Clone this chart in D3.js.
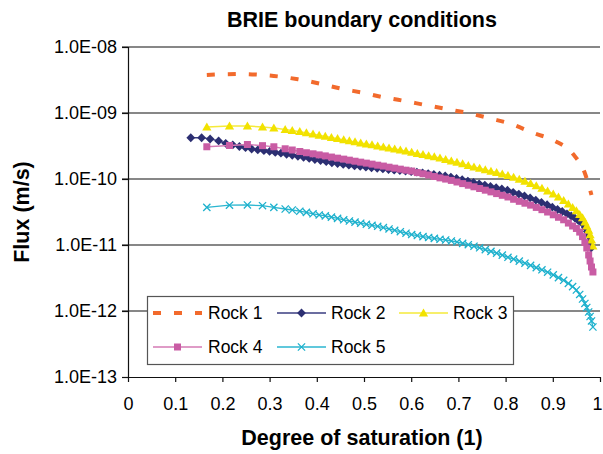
<!DOCTYPE html>
<html><head><meta charset="utf-8">
<script src="https://cdn.jsdelivr.net/npm/d3@7"></script>
<style>
body{margin:0;background:#fff}
svg{display:block}
text{font-family:"Liberation Sans",Arial,Helvetica,sans-serif;fill:#000}
</style>
</head><body>
<svg id="chart" width="603" height="454"></svg>
<script>
// ---------------- data ----------------
const seriesNames = ["Rock 1", "Rock 2", "Rock 3", "Rock 4", "Rock 5"];
const xTickValues = [0, 0.1, 0.2, 0.3, 0.4, 0.5, 0.6, 0.7, 0.8, 0.9, 1];
const yTickValues = [1e-8, 1e-9, 1e-10, 1e-11, 1e-12, 1e-13];

const satRock1 = [0.167, 0.2, 0.24, 0.28, 0.32, 0.36, 0.40, 0.45, 0.50, 0.54, 0.58, 0.63, 0.68, 0.72, 0.77, 0.81, 0.86, 0.905, 0.943, 0.968, 0.982];
const fluxRock1 = [3.77e-9, 3.86e-9, 3.90e-9, 3.79e-9, 3.57e-9, 3.24e-9, 2.85e-9, 2.35e-9, 2.01e-9, 1.74e-9, 1.55e-9, 1.32e-9, 1.13e-9, 1.00e-9, 8.17e-10, 6.88e-10, 4.93e-10, 3.77e-10, 2.39e-10, 1.22e-10, 5.72e-11];

const satRock2 = [0.133, 0.156, 0.174, 0.192, 0.207, 0.222, 0.236, 0.249, 0.262, 0.275, 0.288, 0.300, 0.312, 0.324, 0.336, 0.348, 0.360, 0.372, 0.384, 0.396, 0.408, 0.420, 0.432, 0.444, 0.456, 0.468, 0.480, 0.492, 0.504, 0.516, 0.528, 0.540, 0.552, 0.564, 0.576, 0.588, 0.600, 0.612, 0.624, 0.636, 0.648, 0.660, 0.672, 0.684, 0.696, 0.708, 0.720, 0.732, 0.744, 0.756, 0.768, 0.780, 0.792, 0.804, 0.816, 0.828, 0.840, 0.852, 0.864, 0.876, 0.888, 0.899, 0.910, 0.920, 0.930, 0.939, 0.947, 0.954, 0.960, 0.965, 0.969, 0.973, 0.976, 0.979, 0.981];
const fluxRock2 = [4.22e-10, 4.22e-10, 4.04e-10, 3.77e-10, 3.47e-10, 3.28e-10, 3.11e-10, 2.98e-10, 2.85e-10, 2.77e-10, 2.69e-10, 2.62e-10, 2.53e-10, 2.46e-10, 2.37e-10, 2.29e-10, 2.21e-10, 2.13e-10, 2.05e-10, 1.97e-10, 1.90e-10, 1.83e-10, 1.76e-10, 1.71e-10, 1.66e-10, 1.62e-10, 1.58e-10, 1.55e-10, 1.51e-10, 1.48e-10, 1.45e-10, 1.42e-10, 1.39e-10, 1.36e-10, 1.34e-10, 1.32e-10, 1.29e-10, 1.27e-10, 1.24e-10, 1.21e-10, 1.17e-10, 1.14e-10, 1.11e-10, 1.07e-10, 1.02e-10, 9.76e-11, 9.30e-11, 8.85e-11, 8.46e-11, 8.08e-11, 7.72e-11, 7.38e-11, 7.06e-11, 6.75e-11, 6.29e-11, 5.90e-11, 5.53e-11, 5.17e-11, 4.77e-11, 4.41e-11, 4.07e-11, 3.74e-11, 3.45e-11, 3.22e-11, 2.97e-11, 2.75e-11, 2.55e-11, 2.35e-11, 2.23e-11, 2.05e-11, 1.84e-11, 1.60e-11, 1.37e-11, 1.11e-11, 9.01e-12];

// Rock 3, Rock 4 and Rock 5 share these saturation values
const satCommon = [0.167, 0.215, 0.253, 0.285, 0.309, 0.333, 0.348, 0.364, 0.378, 0.392, 0.405, 0.418, 0.431, 0.444, 0.457, 0.469, 0.481, 0.493, 0.505, 0.517, 0.529, 0.541, 0.553, 0.565, 0.577, 0.589, 0.601, 0.613, 0.625, 0.637, 0.649, 0.661, 0.673, 0.685, 0.697, 0.709, 0.721, 0.733, 0.745, 0.757, 0.769, 0.781, 0.793, 0.805, 0.817, 0.829, 0.841, 0.853, 0.865, 0.877, 0.889, 0.901, 0.912, 0.923, 0.933, 0.942, 0.950, 0.957, 0.963, 0.968, 0.972, 0.976, 0.979, 0.982, 0.985];
const fluxRock3 = [6.14e-10, 6.35e-10, 6.35e-10, 6.14e-10, 5.93e-10, 5.62e-10, 5.43e-10, 5.21e-10, 4.99e-10, 4.77e-10, 4.59e-10, 4.42e-10, 4.24e-10, 4.08e-10, 3.91e-10, 3.78e-10, 3.64e-10, 3.51e-10, 3.39e-10, 3.28e-10, 3.16e-10, 3.05e-10, 2.95e-10, 2.84e-10, 2.74e-10, 2.64e-10, 2.54e-10, 2.43e-10, 2.34e-10, 2.25e-10, 2.16e-10, 2.08e-10, 1.97e-10, 1.87e-10, 1.78e-10, 1.69e-10, 1.60e-10, 1.52e-10, 1.45e-10, 1.38e-10, 1.31e-10, 1.25e-10, 1.19e-10, 1.13e-10, 1.06e-10, 9.89e-11, 9.20e-11, 8.52e-11, 7.86e-11, 7.23e-11, 6.58e-11, 5.93e-11, 5.30e-11, 4.71e-11, 4.18e-11, 3.70e-11, 3.28e-11, 2.90e-11, 2.57e-11, 2.23e-11, 1.94e-11, 1.66e-11, 1.42e-11, 1.19e-11, 9.66e-12];
const fluxRock4 = [3.08e-10, 3.22e-10, 3.33e-10, 3.20e-10, 3.08e-10, 2.87e-10, 2.75e-10, 2.61e-10, 2.50e-10, 2.41e-10, 2.32e-10, 2.24e-10, 2.15e-10, 2.07e-10, 2.00e-10, 1.93e-10, 1.86e-10, 1.80e-10, 1.74e-10, 1.68e-10, 1.62e-10, 1.57e-10, 1.51e-10, 1.46e-10, 1.41e-10, 1.36e-10, 1.32e-10, 1.25e-10, 1.20e-10, 1.15e-10, 1.09e-10, 1.04e-10, 9.97e-11, 9.52e-11, 9.01e-11, 8.52e-11, 8.05e-11, 7.62e-11, 7.18e-11, 6.77e-11, 6.38e-11, 6.01e-11, 5.66e-11, 5.34e-11, 4.93e-11, 4.59e-11, 4.30e-11, 4.02e-11, 3.71e-11, 3.43e-11, 3.16e-11, 2.87e-11, 2.63e-11, 2.41e-11, 2.15e-11, 1.94e-11, 1.78e-11, 1.57e-11, 1.34e-11, 1.09e-11, 9.01e-12, 7.06e-12, 5.72e-12, 4.64e-12, 3.90e-12];
const fluxRock5 = [3.72e-11, 4.01e-11, 4.04e-11, 3.94e-11, 3.72e-11, 3.51e-11, 3.39e-11, 3.25e-11, 3.12e-11, 2.97e-11, 2.85e-11, 2.76e-11, 2.65e-11, 2.53e-11, 2.41e-11, 2.31e-11, 2.22e-11, 2.14e-11, 2.06e-11, 1.99e-11, 1.92e-11, 1.84e-11, 1.75e-11, 1.67e-11, 1.59e-11, 1.51e-11, 1.44e-11, 1.39e-11, 1.34e-11, 1.30e-11, 1.26e-11, 1.22e-11, 1.19e-11, 1.15e-11, 1.11e-11, 1.06e-11, 1.01e-11, 9.59e-12, 9.07e-12, 8.52e-12, 8.00e-12, 7.52e-12, 7.01e-12, 6.51e-12, 6.10e-12, 5.70e-12, 5.30e-12, 4.91e-12, 4.55e-12, 4.21e-12, 3.87e-12, 3.52e-12, 3.21e-12, 2.92e-12, 2.62e-12, 2.34e-12, 2.08e-12, 1.78e-12, 1.52e-12, 1.30e-12, 1.13e-12, 9.66e-13, 8.25e-13, 7.06e-13, 5.72e-13];

// ---------------- layout / style ----------------
const W = 603, H = 454;
const M = {left: 128, right: 600, top: 47, bottom: 377};
const svg = d3.select("#chart");

const x = d3.scaleLinear().domain([0, 1]).range([M.left, M.right]);
const y = d3.scaleLog().domain([1e-13, 1e-8]).range([M.bottom, M.top]);

const styles = [
  {color: "#f26a2c", width: 4, dash: "8,13", marker: null},
  {color: "#2c2f72", lineColor: "#3a3d80", width: 1.3, marker: "diamond"},
  {color: "#f2e200", lineColor: "#f5ea3a", width: 1.5, marker: "triangle"},
  {color: "#c95ca4", lineColor: "#d47ab5", width: 1.3, marker: "square"},
  {color: "#1db1cd", lineColor: "#2bb6d0", width: 1.3, marker: "cross"}
];

const markerPath = {
  diamond: "M0,-4.4L4.4,0L0,4.4L-4.4,0Z",
  triangle: "M0,-4.6L4.6,3.4L-4.6,3.4Z",
  square: "M-3.5,-3.5H3.5V3.5H-3.5Z",
  cross: "M-3.6,-3.6L3.6,3.6M-3.6,3.6L3.6,-3.6"
};

// ---------------- gridlines ----------------
const grid = svg.append("g");
grid.selectAll("line").data(yTickValues.filter(v => v > 1e-13)).join("line")
  .attr("x1", M.left - 6).attr("x2", M.right)
  .attr("y1", d => y(d)).attr("y2", d => y(d))
  .attr("stroke", "#111").attr("stroke-width", 1.2);

// ---------------- axes ----------------
const fmtY = d => {
  const e = Math.round(Math.log10(d));
  return "1.0E" + (e < 0 ? "-" : "+") + String(Math.abs(e)).padStart(2, "0");
};
const yAxis = svg.append("g").attr("transform", `translate(${M.left},0)`)
  .call(d3.axisLeft(y).tickValues(yTickValues).tickFormat(fmtY).tickSize(6).tickPadding(5));
yAxis.select(".domain").attr("stroke", "#111").attr("stroke-width", 1.2);
yAxis.selectAll(".tick line").attr("stroke", "#111").attr("stroke-width", 1.2);
yAxis.selectAll("text").attr("font-size", 18).attr("font-family", "Liberation Sans, Arial, sans-serif").attr("fill", "#000");

const xAxis = svg.append("g").attr("transform", `translate(0,${M.bottom})`)
  .call(d3.axisBottom(x).tickValues(xTickValues).tickFormat(d => d3.format("~g")(d)).tickSize(5).tickPadding(15));
xAxis.select(".domain").attr("stroke", "#111").attr("stroke-width", 1.2).attr("d", `M${M.left},0.5H${M.right}`);
xAxis.selectAll(".tick line").attr("stroke", "#111").attr("stroke-width", 1.2);
xAxis.selectAll("text").attr("font-size", 18).attr("font-family", "Liberation Sans, Arial, sans-serif").attr("fill", "#000")
  .attr("dx", d => d === 1 ? -3 : 0);

// ---------------- series ----------------
const seriesData = [
  d3.zip(satRock1, fluxRock1),
  d3.zip(satRock2, fluxRock2),
  d3.zip(satCommon, fluxRock3),
  d3.zip(satCommon, fluxRock4),
  d3.zip(satCommon, fluxRock5)
];

const line = d3.line().x(d => x(d[0])).y(d => y(d[1]));
const smoothLine = d3.line().x(d => x(d[0])).y(d => y(d[1])).curve(d3.curveMonotoneX);

seriesData.forEach((data, i) => {
  const s = styles[i];
  const g = svg.append("g");
  g.append("path").datum(data)
    .attr("d", s.marker ? line : smoothLine)
    .attr("fill", "none")
    .attr("stroke", s.lineColor || s.color)
    .attr("stroke-width", s.width)
    .attr("stroke-dasharray", s.dash || null);
  if (s.marker) {
    g.selectAll("path.m").data(data).join("path").attr("class", "m")
      .attr("transform", d => `translate(${x(d[0])},${y(d[1])})`)
      .attr("d", markerPath[s.marker])
      .attr("fill", s.marker === "cross" ? "none" : s.color)
      .attr("stroke", s.marker === "cross" ? s.color : "none")
      .attr("stroke-width", 1.3);
  }
});

// ---------------- legend ----------------
const legend = svg.append("g");
legend.append("rect").attr("x", 147.5).attr("y", 296.5).attr("width", 366).attr("height", 68)
  .attr("fill", "#fff").attr("stroke", "#555").attr("stroke-width", 1.2);
const legPos = [
  {sx: 153, tx: 208, cy: 313}, {sx: 277, tx: 331, cy: 313}, {sx: 399, tx: 453, cy: 313},
  {sx: 153, tx: 208, cy: 347}, {sx: 277, tx: 331, cy: 347}
];
seriesNames.forEach((name, i) => {
  const s = styles[i], p = legPos[i];
  legend.append("line").attr("x1", p.sx).attr("x2", p.sx + 49).attr("y1", p.cy).attr("y2", p.cy)
    .attr("stroke", s.lineColor || s.color).attr("stroke-width", s.width)
    .attr("stroke-dasharray", s.dash || null);
  if (s.marker) {
    legend.append("path").attr("transform", `translate(${p.sx + 24.5},${p.cy})`)
      .attr("d", markerPath[s.marker])
      .attr("fill", s.marker === "cross" ? "none" : s.color)
      .attr("stroke", s.marker === "cross" ? s.color : "none")
      .attr("stroke-width", 1.3);
  }
  legend.append("text").attr("x", p.tx).attr("y", p.cy + 6.3)
    .attr("font-size", 17.5).text(name);
});

// ---------------- titles ----------------
svg.append("text").attr("x", 362).attr("y", 27).attr("text-anchor", "middle")
  .attr("font-size", 21.5).attr("font-weight", "bold").text("BRIE boundary conditions");
svg.append("text").attr("x", 362).attr("y", 445).attr("text-anchor", "middle")
  .attr("font-size", 21.5).attr("font-weight", "bold").text("Degree of saturation (1)");
svg.append("text").attr("transform", "translate(29,212) rotate(-90)").attr("text-anchor", "middle")
  .attr("font-size", 21.5).attr("font-weight", "bold").text("Flux (m/s)");
</script>
</body></html>
